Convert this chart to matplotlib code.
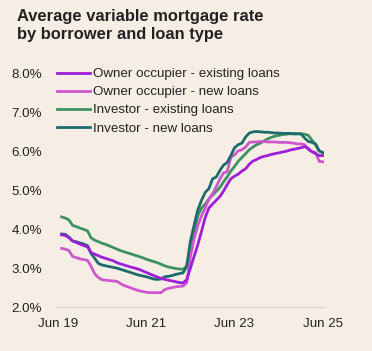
import pandas as pd
import matplotlib.pyplot as plt
import matplotlib.dates as mdates

# Monthly series, Jul 2019 - Jun 2025 (per cent)
months = pd.date_range('2019-07-01', '2025-06-01', freq='MS')

oo_existing = [3.86, 3.84, 3.78, 3.70, 3.66, 3.62, 3.58, 3.55, 3.40, 3.36, 3.32, 3.28,
               3.25, 3.22, 3.19, 3.14, 3.11, 3.08, 3.05, 3.02, 3.00, 2.97, 2.93, 2.89,
               2.85, 2.81, 2.77, 2.74, 2.71, 2.69, 2.67, 2.65, 2.63, 2.62, 2.70, 3.00,
               3.30, 3.60, 3.95, 4.30, 4.55, 4.65, 4.75, 4.85, 4.98, 5.15, 5.30, 5.37,
               5.42, 5.50, 5.56, 5.68, 5.76, 5.80, 5.85, 5.88, 5.90, 5.93, 5.95, 5.97,
               5.99, 6.01, 6.04, 6.06, 6.08, 6.10, 6.13, 6.08, 6.00, 5.95, 5.90, 5.90]

oo_new = [3.51, 3.49, 3.45, 3.30, 3.27, 3.24, 3.22, 3.20, 3.05, 2.85, 2.76, 2.70,
          2.69, 2.68, 2.67, 2.66, 2.60, 2.55, 2.52, 2.48, 2.45, 2.42, 2.40, 2.38,
          2.37, 2.37, 2.37, 2.37, 2.45, 2.48, 2.50, 2.52, 2.53, 2.54, 2.62, 3.30,
          3.75, 4.10, 4.35, 4.55, 4.78, 4.92, 5.10, 5.30, 5.45, 5.48, 5.85, 5.92,
          6.02, 6.05, 6.12, 6.24, 6.25, 6.25, 6.26, 6.26, 6.25, 6.25, 6.25, 6.24,
          6.24, 6.24, 6.23, 6.22, 6.20, 6.20, 6.18, 6.05, 6.00, 5.98, 5.75, 5.74]

inv_existing = [4.32, 4.29, 4.24, 4.10, 4.07, 4.03, 4.00, 3.96, 3.78, 3.72, 3.68, 3.64,
                3.61, 3.57, 3.53, 3.49, 3.45, 3.42, 3.39, 3.36, 3.33, 3.30, 3.27, 3.23,
                3.20, 3.17, 3.14, 3.10, 3.06, 3.03, 3.01, 2.99, 2.98, 2.97, 3.05, 3.40,
                3.95, 4.35, 4.55, 4.65, 4.78, 4.88, 4.98, 5.08, 5.22, 5.35, 5.50, 5.62,
                5.75, 5.85, 5.95, 6.05, 6.12, 6.18, 6.22, 6.28, 6.33, 6.37, 6.40, 6.42,
                6.44, 6.45, 6.46, 6.46, 6.46, 6.46, 6.45, 6.42, 6.30, 6.18, 6.02, 5.98]

inv_new = [3.88, 3.87, 3.80, 3.70, 3.68, 3.65, 3.62, 3.58, 3.38, 3.25, 3.12, 3.08,
           3.06, 3.04, 3.02, 3.00, 2.97, 2.94, 2.91, 2.88, 2.85, 2.82, 2.80, 2.78,
           2.75, 2.72, 2.71, 2.72, 2.78, 2.79, 2.81, 2.84, 2.86, 2.88, 3.05, 3.70,
           4.10, 4.50, 4.75, 4.95, 5.05, 5.30, 5.35, 5.52, 5.65, 5.72, 5.90, 6.10,
           6.18, 6.22, 6.38, 6.48, 6.51, 6.52, 6.51, 6.50, 6.50, 6.49, 6.48, 6.48,
           6.47, 6.47, 6.47, 6.46, 6.46, 6.46, 6.35, 6.26, 6.24, 6.20, 6.02, 5.97]

labels = ['Owner occupier - existing loans', 'Owner occupier - new loans',
          'Investor - existing loans', 'Investor - new loans']
colors = ['#9E1FD6', '#CE56CF', '#3E9262', '#1D6B6C']
series = [oo_existing, oo_new, inv_existing, inv_new]

bg = '#F6EEE4'
plt.rcParams['font.family'] = ['Liberation Sans', 'DejaVu Sans']

fig = plt.figure(figsize=(3.72, 3.51), dpi=100, facecolor=bg)
ax = fig.add_axes([56 / 372, 44 / 351, 268 / 372, 233 / 351], facecolor=bg)

zorders = [4, 2, 1, 3]
for vals, lab, col, z in zip(series, labels, colors, zorders):
    ax.plot(months, vals, color=col, lw=2, label=lab, zorder=z)

ax.set_ylim(2, 8)
ax.set_yticks([2, 3, 4, 5, 6, 7, 8])
ax.set_yticklabels([f'{v:.1f}%' for v in [2, 3, 4, 5, 6, 7, 8]])
ax.set_xlim(pd.Timestamp('2019-05-16'), pd.Timestamp('2025-06-10'))
ax.set_xticks([pd.Timestamp(f'20{y}-06-01') for y in (19, 21, 23, 25)])
ax.xaxis.set_major_formatter(mdates.DateFormatter('Jun %y'))

for s in ['top', 'right', 'left']:
    ax.spines[s].set_visible(False)
ax.spines['bottom'].set_color('#DAD5CD')
ax.spines['bottom'].set_linewidth(1)
ax.tick_params(axis='both', length=0, labelsize=9.6, colors='#222222')
ax.tick_params(axis='y', pad=10)
ax.tick_params(axis='x', pad=8)

fig.text(17 / 372, 1 - 9 / 351, 'Average variable mortgage rate\nby borrower and loan type',
         fontsize=11.9, fontweight='bold', color='#222222', va='top', ha='left',
         linespacing=1.25)

leg = ax.legend(loc='upper left', bbox_to_anchor=(57 / 372, 1 - 68 / 351),
                bbox_transform=fig.transFigure, frameon=False, fontsize=9.6,
                handlelength=2.5, handletextpad=0.2, labelspacing=0.43,
                borderpad=0, borderaxespad=0)
for t in leg.get_texts():
    t.set_color('#222222')

fig.savefig('out.png', dpi=100, facecolor=bg)
